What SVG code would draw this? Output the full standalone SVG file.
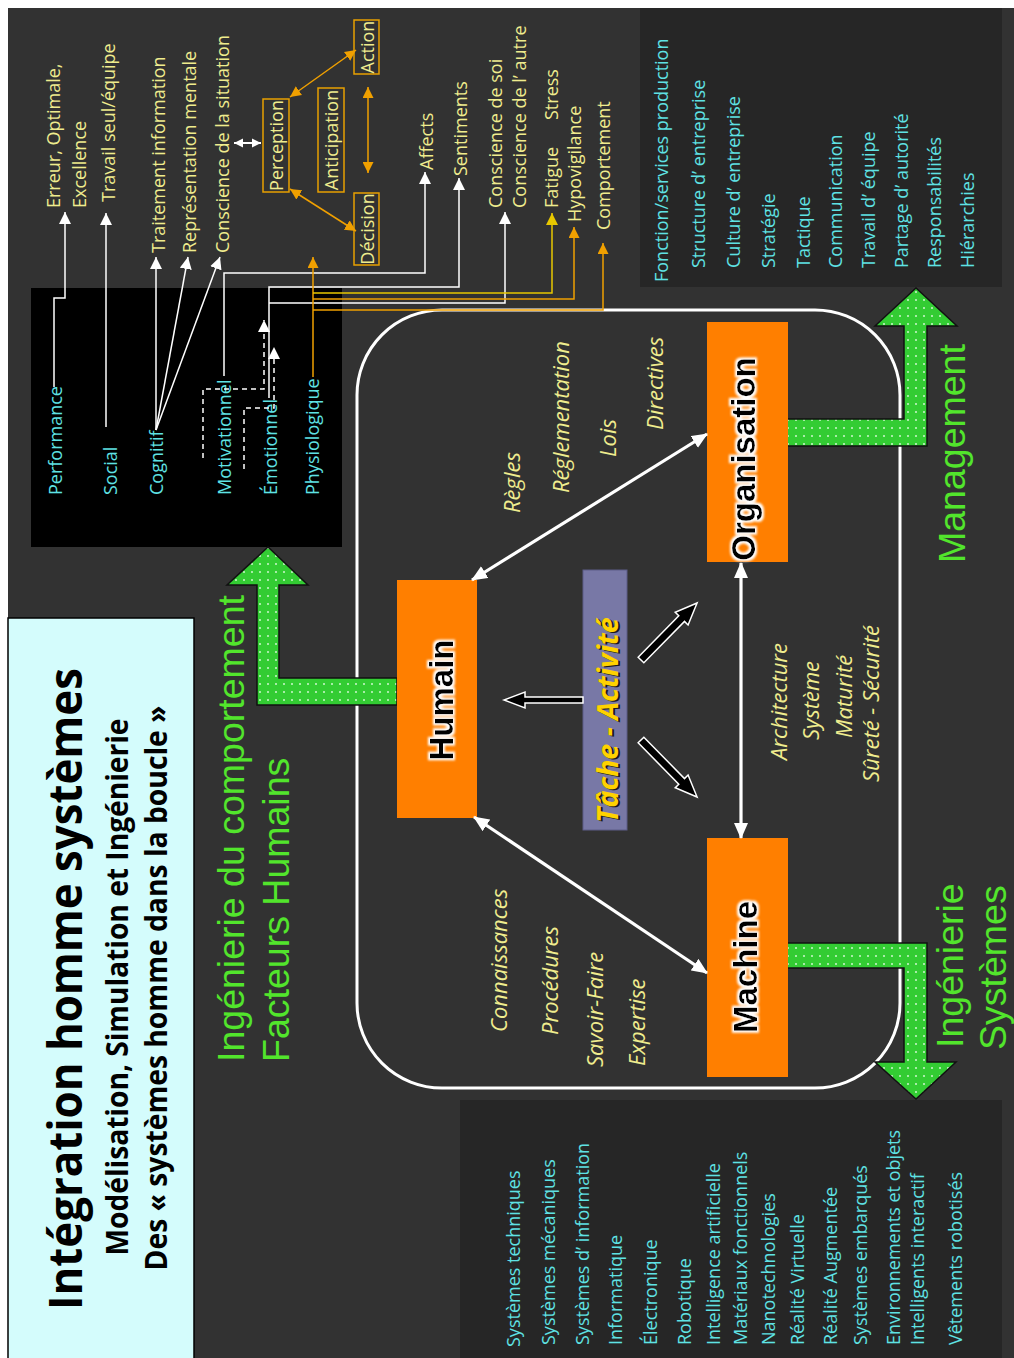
<svg xmlns="http://www.w3.org/2000/svg" width="1014" height="1358" viewBox="0 0 1014 1358">
<defs>
<style>
text{font-family:"Open Sans","DejaVu Sans",sans-serif}
.cy{fill:#5FE2E4;font-size:18px}
.ye{fill:#EFEC8E;font-size:18px}
.it{fill:#EFEC8E;font-size:22px;font-style:italic}
.gr{fill:#52E52C;font-family:"Liberation Sans",Arial,sans-serif;font-size:37.5px}
.nd{font-family:"Liberation Sans",Arial,sans-serif;font-weight:bold;font-size:33px;fill:#000;filter:url(#glow)}
.ti{font-weight:bold;fill:#000}
.wl{stroke:#fff;stroke-width:1.5;fill:none;marker-end:url(#wh)}
.wd{stroke:#fff;stroke-width:1.5;fill:none;stroke-dasharray:5 4;marker-end:url(#wh)}
.ol{stroke:#F0A000;stroke-width:1.5;fill:none;marker-end:url(#oh)}
.yl{stroke:#E8C800;stroke-width:1.5;fill:none;marker-end:url(#yh)}
.od{stroke:#F0A000;stroke-width:1.5;fill:none;marker-start:url(#oh);marker-end:url(#oh)}
.ob{stroke:#E8A000;stroke-width:1.5;fill:none}
.ga{fill:url(#dots);stroke:#111;stroke-width:1.5}
.ta{fill:#000;stroke:#fff;stroke-width:1.5}
.bw{stroke:#fff;stroke-width:3.2;fill:none;marker-start:url(#bh);marker-end:url(#bh)}
.org{fill:#FF7F00}
</style>
<pattern id="dots" width="8" height="8" patternUnits="userSpaceOnUse">
<rect width="8" height="8" fill="#33CC33"/>
<rect x="3.2" y="3.2" width="1.6" height="1.6" fill="#E8FFE8"/>
</pattern>
<marker id="wh" viewBox="0 0 12 12" refX="12" refY="6" markerWidth="12" markerHeight="12" markerUnits="userSpaceOnUse" orient="auto-start-reverse"><path d="M0,0 L12,6 L0,12 z" fill="#fff"/></marker>
<marker id="ws" viewBox="0 0 12 12" refX="12" refY="6" markerWidth="9" markerHeight="10" markerUnits="userSpaceOnUse" orient="auto-start-reverse"><path d="M0,0 L12,6 L0,12 z" fill="#fff"/></marker>
<marker id="oh" viewBox="0 0 12 12" refX="12" refY="6" markerWidth="11" markerHeight="11" markerUnits="userSpaceOnUse" orient="auto-start-reverse"><path d="M0,0 L12,6 L0,12 z" fill="#F0A000"/></marker>
<marker id="yh" viewBox="0 0 12 12" refX="12" refY="6" markerWidth="12" markerHeight="12" markerUnits="userSpaceOnUse" orient="auto-start-reverse"><path d="M0,0 L12,6 L0,12 z" fill="#E8C800"/></marker>
<marker id="bh" viewBox="0 0 16 14" refX="15" refY="7" markerWidth="16" markerHeight="14" markerUnits="userSpaceOnUse" orient="auto-start-reverse"><path d="M0,0 L16,7 L0,14 z" fill="#fff"/></marker>
<filter id="glow" x="-20%" y="-30%" width="140%" height="160%">
<feMorphology in="SourceAlpha" operator="dilate" radius="1.5" result="d"/>
<feGaussianBlur in="d" stdDeviation="1.3" result="b"/>
<feFlood flood-color="#ffffff"/>
<feComposite in2="b" operator="in" result="w"/>
<feMerge><feMergeNode in="w"/><feMergeNode in="SourceGraphic"/></feMerge>
</filter>
</defs>

<!-- background -->
<rect width="1014" height="1358" fill="#fff"/>
<rect x="8" y="8" width="1006" height="1350" fill="#323232"/>

<!-- panels -->
<g id="panel-management">
<rect x="640" y="8" width="362" height="279" fill="#262626"/>
<text class="cy" transform="translate(668,282) rotate(-90)">Fonction/services production</text>
<text class="cy" transform="translate(705,268) rotate(-90)">Structure d’ entreprise</text>
<text class="cy" transform="translate(740,268) rotate(-90)">Culture d’ entreprise</text>
<text class="cy" transform="translate(775,268) rotate(-90)">Stratégie</text>
<text class="cy" transform="translate(810,268) rotate(-90)">Tactique</text>
<text class="cy" transform="translate(842,268) rotate(-90)">Communication</text>
<text class="cy" transform="translate(875,268) rotate(-90)">Travail d’ équipe</text>
<text class="cy" transform="translate(908,268) rotate(-90)">Partage d’ autorité</text>
<text class="cy" transform="translate(941,268) rotate(-90)">Responsabilités</text>
<text class="cy" transform="translate(974,268) rotate(-90)">Hiérarchies</text>
</g>

<g id="panel-systemes">
<rect x="460" y="1100" width="542" height="258" fill="#262626"/>
<text class="cy" transform="translate(520,1347) rotate(-90)">Systèmes techniques</text>
<text class="cy" transform="translate(555,1345) rotate(-90)">Systèmes mécaniques</text>
<text class="cy" transform="translate(589,1345) rotate(-90)">Systèmes d’ information</text>
<text class="cy" transform="translate(622,1345) rotate(-90)">Informatique</text>
<text class="cy" transform="translate(657,1345) rotate(-90)">Électronique</text>
<text class="cy" transform="translate(691,1345) rotate(-90)">Robotique</text>
<text class="cy" transform="translate(720,1345) rotate(-90)">Intelligence artificielle</text>
<text class="cy" transform="translate(747,1345) rotate(-90)">Matériaux fonctionnels</text>
<text class="cy" transform="translate(775,1345) rotate(-90)">Nanotechnologies</text>
<text class="cy" transform="translate(804,1345) rotate(-90)">Réalité Virtuelle</text>
<text class="cy" transform="translate(837,1345) rotate(-90)">Réalité Augmentée</text>
<text class="cy" transform="translate(867,1345) rotate(-90)">Systèmes embarqués</text>
<text class="cy" transform="translate(900,1345) rotate(-90)">Environnements et objets</text>
<text class="cy" transform="translate(924,1345) rotate(-90)">Intelligents interactif</text>
<text class="cy" transform="translate(962,1345) rotate(-90)">Vêtements robotisés</text>
</g>

<!-- loop -->
<rect id="boucle" x="357" y="310" width="543" height="778" rx="85" ry="85" fill="none" stroke="#fff" stroke-width="3"/>

<!-- title -->
<g id="titre">
<rect x="8" y="618" width="186" height="745" fill="#D4FCFC" stroke="#000" stroke-width="1.5"/>
<text class="ti" font-size="46" text-anchor="middle" textLength="642" lengthAdjust="spacingAndGlyphs" transform="translate(82,989) rotate(-90)">Intégration homme systèmes</text>
<text class="ti" font-size="31" text-anchor="middle" textLength="537" lengthAdjust="spacingAndGlyphs" transform="translate(128,987) rotate(-90)">Modélisation, Simulation et Ingénierie</text>
<text class="ti" font-size="31" text-anchor="middle" textLength="565" lengthAdjust="spacingAndGlyphs" transform="translate(167,988) rotate(-90)">Des « systèmes homme dans la boucle »</text>
</g>

<!-- human factors black box -->
<g id="facteurs">
<rect x="31" y="288" width="311" height="259" fill="#000"/>
<text class="cy" transform="translate(62,495) rotate(-90)">Performance</text>
<text class="cy" transform="translate(117,495) rotate(-90)">Social</text>
<text class="cy" transform="translate(163,495) rotate(-90)">Cognitif</text>
<text class="cy" transform="translate(231,495) rotate(-90)">Motivationnel</text>
<text class="cy" transform="translate(277,495) rotate(-90)">Émotionnel</text>
<text class="cy" transform="translate(319,495) rotate(-90)">Physiologique</text>
</g>

<!-- green arrows -->
<g id="fleches-vertes">
<polygon class="ga" points="397,678 279,678 279,585 308,585 268,547 227,585 257,585 257,705 397,705"/>
<polygon class="ga" points="787,419 904,419 904,326 875,326 916,288 957,326 927,326 927,446 787,446"/>
<polygon class="ga" points="787,943 927,943 927,1062 956,1062 916,1099 875,1062 904,1062 904,968 787,968"/>
</g>
<text class="gr" transform="translate(244,1062) rotate(-90)">Ingénierie du comportement</text>
<text class="gr" transform="translate(289,1062) rotate(-90)">Facteurs Humains</text>
<text class="gr" transform="translate(965,563) rotate(-90)">Management</text>
<text class="gr" transform="translate(963,1048) rotate(-90)">Ingénierie</text>
<text class="gr" transform="translate(1006,1050) rotate(-90)">Systèmes</text>

<!-- nodes -->
<g id="humain">
<rect class="org" x="397" y="580" width="80" height="238"/>
<text class="nd" text-anchor="middle" transform="translate(453,700) rotate(-90)">Humain</text>
</g>
<g id="organisation">
<rect class="org" x="707" y="322" width="81" height="240"/>
<text class="nd" text-anchor="middle" transform="translate(755,459) rotate(-90)">Organisation</text>
</g>
<g id="machine">
<rect class="org" x="707" y="838" width="81" height="239"/>
<text class="nd" text-anchor="middle" transform="translate(757,967) rotate(-90)">Machine</text>
</g>
<g id="tache">
<rect x="583" y="570" width="44" height="260" fill="#7878A6" stroke="#5C5C88" stroke-width="1"/>
<text font-size="28.5" font-weight="bold" font-style="italic" fill="#1A1A1A" text-anchor="middle" transform="translate(620,721) rotate(-90)">Tâche - Activité</text>
<text font-size="28.5" font-weight="bold" font-style="italic" fill="#FFD200" text-anchor="middle" transform="translate(618,720) rotate(-90)">Tâche - Activité</text>
</g>

<!-- cognitive boxes -->
<g id="perception"><rect class="ob" x="263" y="99" width="26" height="93"/><text class="ye" text-anchor="middle" transform="translate(283,145.5) rotate(-90)">Perception</text></g>
<g id="anticipation"><rect class="ob" x="318" y="88" width="26" height="104"/><text class="ye" text-anchor="middle" transform="translate(338,140) rotate(-90)">Anticipation</text></g>
<g id="action"><rect class="ob" x="354" y="20" width="25" height="54"/><text class="ye" text-anchor="middle" transform="translate(374,47) rotate(-90)">Action</text></g>
<g id="decision"><rect class="ob" x="354" y="193" width="25" height="72"/><text class="ye" text-anchor="middle" transform="translate(374,229) rotate(-90)">Décision</text></g>

<!-- outcome labels -->
<g id="labels">
<text class="ye" transform="translate(60,208) rotate(-90)">Erreur, Optimale,</text>
<text class="ye" transform="translate(86,208) rotate(-90)">Excellence</text>
<text class="ye" transform="translate(115,202) rotate(-90)">Travail seul/équipe</text>
<text class="ye" transform="translate(165,253) rotate(-90)">Traitement information</text>
<text class="ye" transform="translate(196,253) rotate(-90)">Représentation mentale</text>
<text class="ye" transform="translate(229,253) rotate(-90)">Conscience de la situation</text>
<text class="ye" transform="translate(433,170) rotate(-90)">Affects</text>
<text class="ye" transform="translate(467,176) rotate(-90)">Sentiments</text>
<text class="ye" transform="translate(502,208) rotate(-90)">Conscience de soi</text>
<text class="ye" transform="translate(526,208) rotate(-90)">Conscience de l’ autre</text>
<text class="ye" transform="translate(558,208) rotate(-90)">Fatigue</text>
<text class="ye" transform="translate(558,120) rotate(-90)">Stress</text>
<text class="ye" transform="translate(581,222) rotate(-90)">Hypovigilance</text>
<text class="ye" transform="translate(610,230) rotate(-90)">Comportement</text>
</g>

<!-- italic annotations -->
<g id="annotations">
<text class="it" transform="translate(520,513) rotate(-90)">Règles</text>
<text class="it" transform="translate(569,493) rotate(-90)">Réglementation</text>
<text class="it" transform="translate(616,457) rotate(-90)">Lois</text>
<text class="it" transform="translate(663,430) rotate(-90)">Directives</text>
<text class="it" transform="translate(507,1032) rotate(-90)">Connaissances</text>
<text class="it" transform="translate(558,1035) rotate(-90)">Procédures</text>
<text class="it" transform="translate(603,1067) rotate(-90)">Savoir-Faire</text>
<text class="it" transform="translate(645,1066) rotate(-90)">Expertise</text>
<text class="it" transform="translate(787,760) rotate(-90)">Architecture</text>
<text class="it" transform="translate(819,740) rotate(-90)">Système</text>
<text class="it" transform="translate(852,738) rotate(-90)">Maturité</text>
<text class="it" transform="translate(879,782) rotate(-90)">Sûreté - Sécurité</text>
</g>

<!-- connectors -->
<g id="connecteurs">
<polyline class="wl" points="54,387 54,298 65,298 65,212"/>
<line class="wl" x1="106" y1="427" x2="106" y2="213"/>
<line class="wl" x1="156" y1="430" x2="156" y2="257"/>
<line class="wl" x1="156" y1="430" x2="188" y2="257"/>
<line class="wl" x1="156" y1="430" x2="220" y2="257"/>
<polyline class="wl" points="224,376 224,273 425,273 425,172"/>
<polyline class="wl" points="269,398 269,287 459,287 459,178"/>
<polyline class="wl" points="269,303 505,303 505,212"/>
<polyline class="wd" points="203,458 203,389 264,389 264,320"/>
<polyline class="wd" points="244,469 244,408 274,408 274,347"/>
<line class="ol" x1="313" y1="377" x2="313" y2="257"/>
<polyline class="yl" points="313,293 552,293 552,213"/>
<polyline class="ol" points="313,299 574,299 574,227"/>
<polyline class="ol" points="313,310 603,310 603,243"/>
<line class="od" x1="290" y1="97" x2="356" y2="50"/>
<line class="od" x1="290" y1="189" x2="356" y2="231"/>
<line class="od" x1="368" y1="87" x2="368" y2="173"/>
<line stroke="#fff" stroke-width="2" x1="234" y1="143" x2="261" y2="143" marker-start="url(#ws)" marker-end="url(#ws)"/>
<line class="bw" x1="472" y1="580" x2="707" y2="434"/>
<line class="bw" x1="474" y1="817" x2="707" y2="973"/>
<line class="bw" x1="741" y1="563" x2="741" y2="838"/>
<polygon class="ta" points="583,697 525,697 525,692 504,700 525,708 525,703 583,703"/>
<polygon class="ta" points="0,-4 58,-4 58,-9 80,0 58,9 58,4 0,4" transform="translate(641,660) rotate(-45.5)"/>
<polygon class="ta" points="0,-4 58,-4 58,-9 80,0 58,9 58,4 0,4" transform="translate(641,740) rotate(45.5)"/>
</g>
</svg>
